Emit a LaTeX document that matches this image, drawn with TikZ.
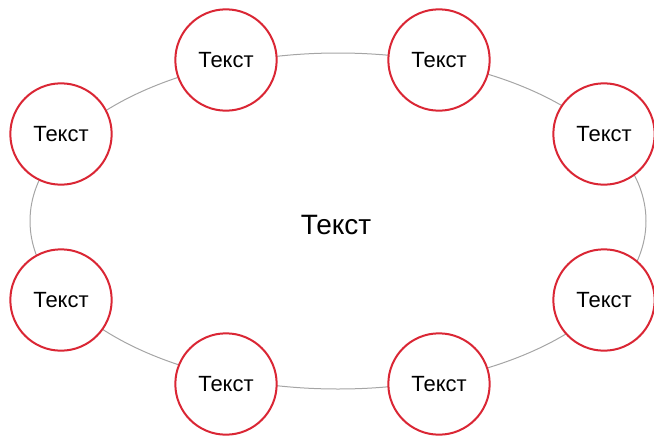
\documentclass[tikz,border=0pt]{standalone}
\usepackage{fontspec}
\setmainfont{Liberation Sans}
\definecolor{krasny}{RGB}{218,38,52}
\definecolor{sery}{RGB}{165,165,165}
\tikzset{
  krug/.style={circle, draw=krasny, line width=1.5pt, fill=white,
    minimum size=76pt, inner sep=0pt, font=\fontsize{16.5}{18}\selectfont},
}
\begin{document}
\begin{tikzpicture}[x=0.75pt,y=-0.75pt]
\useasboundingbox (0,0) rectangle (654,436);
% Овал
\draw [sery, line width=0.75pt] (338,221) ellipse (308 and 168);
\node [font=\fontsize{21}{24}\selectfont] (centr) at (336,225) {Текст};

% Круги по овалу
\foreach \n/\x/\y in {a/226/60, b/439/60, c/61/134, d/604/134,
                      e/61/300, f/604/300, g/226/384, h/439/384}
  \node [krug] (\n) at (\x,\y) {Текст};
\end{tikzpicture}
\end{document}
